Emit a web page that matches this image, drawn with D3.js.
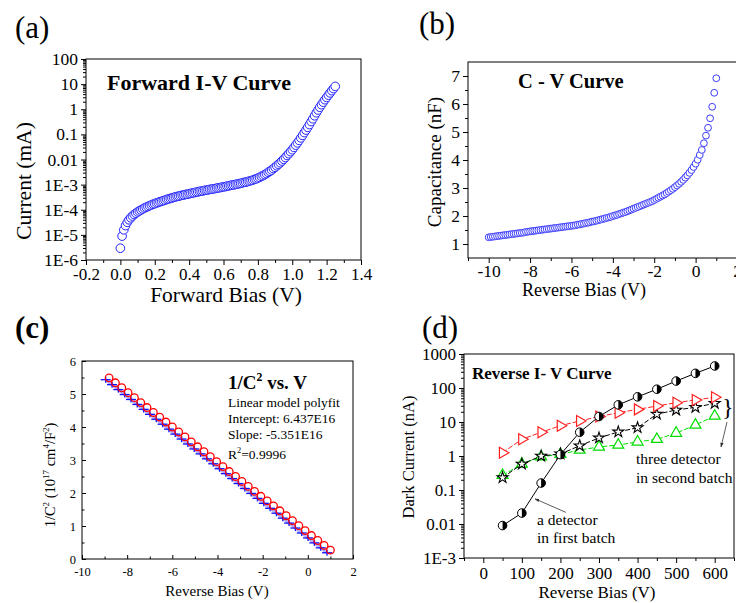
<!DOCTYPE html>
<html lang="en">
<head>
<meta charset="utf-8">
<title>Detector I-V and C-V curves</title>
<script src="https://cdnjs.cloudflare.com/ajax/libs/d3/7.8.5/d3.min.js"></script>
<style>
  body { margin: 0; background: #fff; }
</style>
</head>
<body>
<script>
// ---------- data ----------

// (a) forward I-V: bias (V) and log10 of current (mA)
var fwdBias = [
  0.00,0.01,0.02,0.03,0.04,0.05,0.06,0.07,0.08,0.09,
  0.10,0.11,0.12,0.13,0.14,0.15,0.16,0.17,0.18,0.19,
  0.20,0.21,0.22,0.23,0.24,0.25,0.26,0.27,0.28,0.29,
  0.30,0.31,0.32,0.33,0.34,0.35,0.36,0.37,0.38,0.39,
  0.40,0.41,0.42,0.43,0.44,0.45,0.46,0.47,0.48,0.49,
  0.50,0.51,0.52,0.53,0.54,0.55,0.56,0.57,0.58,0.59,
  0.60,0.61,0.62,0.63,0.64,0.65,0.66,0.67,0.68,0.69,
  0.70,0.71,0.72,0.73,0.74,0.75,0.76,0.77,0.78,0.79,
  0.80,0.81,0.82,0.83,0.84,0.85,0.86,0.87,0.88,0.89,
  0.90,0.91,0.92,0.93,0.94,0.95,0.96,0.97,0.98,0.99,
  1.00,1.01,1.02,1.03,1.04,1.05,1.06,1.07,1.08,1.09,
  1.10,1.11,1.12,1.13,1.14,1.15,1.16,1.17,1.18,1.19,
  1.20,1.21,1.22,1.23,1.24,1.25
];
var fwdLogCurrent = [
  -5.53,-5.05,-4.80,-4.63,-4.50,-4.40,-4.32,-4.25,-4.19,-4.14,
  -4.09,-4.05,-4.01,-3.97,-3.93,-3.90,-3.87,-3.84,-3.81,-3.78,
  -3.76,-3.73,-3.71,-3.68,-3.66,-3.64,-3.62,-3.59,-3.57,-3.55,
  -3.53,-3.51,-3.49,-3.47,-3.46,-3.44,-3.42,-3.41,-3.39,-3.38,
  -3.36,-3.35,-3.33,-3.32,-3.30,-3.29,-3.27,-3.26,-3.25,-3.23,
  -3.22,-3.21,-3.19,-3.18,-3.17,-3.16,-3.14,-3.13,-3.12,-3.10,
  -3.09,-3.08,-3.06,-3.05,-3.03,-3.02,-3.01,-2.99,-2.98,-2.96,
  -2.95,-2.93,-2.91,-2.90,-2.88,-2.86,-2.84,-2.82,-2.79,-2.77,
  -2.74,-2.71,-2.67,-2.64,-2.60,-2.56,-2.51,-2.47,-2.42,-2.36,
  -2.31,-2.25,-2.19,-2.13,-2.06,-1.99,-1.92,-1.84,-1.77,-1.69,
  -1.61,-1.52,-1.43,-1.34,-1.24,-1.14,-1.04,-0.93,-0.83,-0.72,
  -0.61,-0.49,-0.38,-0.26,-0.14,-0.03,0.08,0.18,0.28,0.38,
  0.47,0.56,0.65,0.74,0.82,0.91
];

// (b) C-V: reverse bias (V) and capacitance (nF)
var cvBias = [
  -10.0,-9.9,-9.8,-9.7,-9.6,-9.5,-9.4,-9.3,-9.2,-9.1,
  -9.0,-8.9,-8.8,-8.7,-8.6,-8.5,-8.4,-8.3,-8.2,-8.1,
  -8.0,-7.9,-7.8,-7.7,-7.6,-7.5,-7.4,-7.3,-7.2,-7.1,
  -7.0,-6.9,-6.8,-6.7,-6.6,-6.5,-6.4,-6.3,-6.2,-6.1,
  -6.0,-5.9,-5.8,-5.7,-5.6,-5.5,-5.4,-5.3,-5.2,-5.1,
  -5.0,-4.9,-4.8,-4.7,-4.6,-4.5,-4.4,-4.3,-4.2,-4.1,
  -4.0,-3.9,-3.8,-3.7,-3.6,-3.5,-3.4,-3.3,-3.2,-3.1,
  -3.0,-2.9,-2.8,-2.7,-2.6,-2.5,-2.4,-2.3,-2.2,-2.1,
  -2.0,-1.9,-1.8,-1.7,-1.6,-1.5,-1.4,-1.3,-1.2,-1.1,
  -1.0,-0.9,-0.8,-0.7,-0.6,-0.5,-0.4,-0.3,-0.2,-0.1,
  0.0,0.1,0.2,0.3,0.4,0.5,0.6,0.7,0.8,0.9,
  1.0
];
var cvCap = [
  1.24,1.25,1.26,1.27,1.28,1.29,1.30,1.31,1.32,1.33,
  1.34,1.35,1.36,1.37,1.38,1.39,1.40,1.41,1.43,1.44,
  1.45,1.46,1.47,1.48,1.49,1.50,1.51,1.52,1.53,1.54,
  1.55,1.56,1.57,1.58,1.59,1.60,1.61,1.62,1.63,1.64,
  1.65,1.66,1.67,1.69,1.70,1.72,1.73,1.75,1.76,1.78,
  1.80,1.81,1.83,1.85,1.87,1.89,1.91,1.93,1.95,1.97,
  2.00,2.02,2.04,2.07,2.09,2.12,2.14,2.17,2.20,2.23,
  2.26,2.29,2.32,2.35,2.38,2.41,2.44,2.47,2.50,2.53,
  2.57,2.61,2.65,2.69,2.73,2.77,2.82,2.87,2.92,2.97,
  3.03,3.09,3.15,3.22,3.29,3.37,3.45,3.54,3.64,3.75,
  3.87,4.01,4.18,4.36,4.60,4.87,5.15,5.49,5.90,6.40,
  6.92
];

// (c) 1/C^2 vs V (units of 1e17 cm^4/F^2)
var invBias = [
  -8.80,-8.52,-8.24,-7.96,-7.68,-7.40,-7.12,-6.84,-6.56,-6.28,
  -6.00,-5.72,-5.44,-5.16,-4.88,-4.60,-4.32,-4.04,-3.76,-3.48,
  -3.20,-2.92,-2.64,-2.36,-2.08,-1.80,-1.52,-1.24,-0.96,-0.68,
  -0.40,-0.12,0.16,0.44,0.72,1.00
];
var invC2 = [
  5.49,5.34,5.19,5.04,4.89,4.74,4.59,4.44,4.30,4.15,
  4.00,3.85,3.70,3.55,3.40,3.25,3.10,2.95,2.80,2.65,
  2.50,2.35,2.20,2.05,1.90,1.76,1.61,1.46,1.31,1.16,
  1.01,0.86,0.71,0.56,0.41,0.27
];
var fitBias = [
  -8.95,-8.67,-8.39,-8.11,-7.83,-7.55,-7.27,-6.99,-6.71,-6.43,
  -6.15,-5.87,-5.59,-5.31,-5.03,-4.75,-4.47,-4.19,-3.91,-3.63,
  -3.35,-3.07,-2.79,-2.51,-2.23,-1.95,-1.67,-1.39,-1.11,-0.83,
  -0.55,-0.27,0.01,0.29,0.57,0.85
];
var fitIntercept = 0.6437;   // 6.437E16
var fitSlope = -0.5351;      // -5.351E16

// (d) reverse I-V: bias (V) and dark current (nA)
var revBias = [50,100,150,200,250,300,350,400,450,500,550,600];
var firstBatch = [0.009,0.021,0.16,1.1,5.0,14.5,32,55,92,160,270,445];
var secondRed = [1.25,3.1,5.0,7.8,10.7,14.5,18.7,23.5,29.5,37,44.5,53.5];
var secondStar = [0.23,0.58,1.0,1.15,2.0,3.4,5.1,6.8,17,22.5,27,35.5];
var secondGreen = [0.27,0.58,0.95,1.12,1.5,1.85,2.1,2.6,3.1,4.7,8.2,15];

// tick labels
var ivYTicks = [1e-6,1e-5,1e-4,1e-3,0.01,0.1,1,10,100];
var ivYLabels = ["1E-6","1E-5","1E-4","1E-3","0.01","0.1","1","10","100"];
var ivXTicks = [-0.2,0,0.2,0.4,0.6,0.8,1.0,1.2,1.4];
var revYTicks = [1e-3,0.01,0.1,1,10,100,1000];
var revYLabels = ["1E-3","0.01","0.1","1","10","100","1000"];
var revXTicks = [0,100,200,300,400,500,600];

// ---------- drawing ----------
var SERIF = "Liberation Serif";
var W = 736, H = 603;

var svg = d3.select("body").append("svg")
    .attr("width", W)
    .attr("height", H);
svg.append("rect").attr("width", W).attr("height", H).attr("fill", "#fff");

var defs = svg.append("defs");
defs.append("marker")
    .attr("id", "arr")
    .attr("viewBox", "0 0 10 10")
    .attr("refX", 9).attr("refY", 5)
    .attr("markerWidth", 6).attr("markerHeight", 6)
    .attr("orient", "auto")
  .append("path")
    .attr("d", "M0,1.5L10,5L0,8.5Z")
    .attr("fill", "#333");

function text(x, y, s, size, opt) {
  opt = opt || {};
  var t = svg.append("text")
      .attr("x", x).attr("y", y)
      .attr("font-family", SERIF)
      .attr("font-size", size)
      .attr("font-weight", opt.bold ? "bold" : "normal")
      .attr("text-anchor", opt.anchor || "start")
      .attr("fill", "#000");
  if (opt.rotate) {
    t.attr("x", 0).attr("y", 0)
     .attr("transform", "translate(" + x + "," + y + ") rotate(-90)");
  }
  if (typeof s === "string") {
    t.text(s);
  } else {
    // parts: [string, isSuperscript]
    var sup = size * 0.62, up = size * 0.42;
    s.forEach(function(p) {
      var span = t.append("tspan").text(p[0]);
      if (p[1]) {
        span.attr("font-size", sup).attr("dy", -up);
      } else if (t.property("lastSup")) {
        span.attr("dy", up);
      }
      t.property("lastSup", !!p[1]);
    });
  }
  return t;
}

function styleAxis(g, size) {
  g.select(".domain").remove();
  g.selectAll(".tick line").attr("stroke", "#000").attr("stroke-width", 1);
  g.selectAll(".tick text")
      .attr("font-family", SERIF)
      .attr("font-size", size)
      .attr("fill", "#000");
}

function axis(gen, pos, size, horiz) {
  var g = svg.append("g")
      .attr("transform", horiz ? "translate(0," + pos + ")" : "translate(" + pos + ",0)")
      .call(gen);
  styleAxis(g, size);
  return g;
}

function frame(x, y) {
  svg.append("rect")
      .attr("x", x.range()[0]).attr("y", y.range()[1])
      .attr("width", x.range()[1] - x.range()[0])
      .attr("height", y.range()[0] - y.range()[1])
      .attr("fill", "none")
      .attr("stroke", "#000")
      .attr("stroke-width", 1);
}

function logMinor(lo, hi) {
  var out = [];
  for (var e = lo; e < hi; e++) {
    for (var k = 2; k <= 9; k++) out.push(k * Math.pow(10, e));
  }
  return out;
}

// ===== (a) forward I-V =====
var ax = d3.scaleLinear().domain([-0.2, 1.4]).range([86, 361]);
var ay = d3.scaleLog().domain([1e-6, 100]).range([260, 59]);

axis(d3.axisBottom(ax).tickValues(ivXTicks).tickSize(5).tickPadding(3)
       .tickFormat(function(d) { return d.toFixed(1); }), 260, 17, true);
axis(d3.axisBottom(ax).tickValues([-0.1,0.1,0.3,0.5,0.7,0.9,1.1,1.3]).tickSize(3)
       .tickFormat(""), 260, 17, true);
axis(d3.axisLeft(ay).tickValues(ivYTicks).tickSize(5).tickPadding(3)
       .tickFormat(function(d, i) { return ivYLabels[i]; }), 86, 17.5, false);
axis(d3.axisLeft(ay).tickValues(logMinor(-6, 2)).tickSize(3).tickFormat(""), 86, 17, false);

svg.append("g").selectAll("circle")
    .data(fwdBias)
    .enter()
    .append("circle")
    .attr("cx", function(d) { return ax(d); })
    .attr("cy", function(d, i) { return ay(Math.pow(10, fwdLogCurrent[i])); })
    .attr("r", 4.3)
    .attr("fill", "#fff")
    .attr("stroke", "#2222ff")
    .attr("stroke-width", 1);
frame(ax, ay);

text(15, 38, "(a)", 31);
text(107, 90, "Forward I-V Curve", 22, {bold: true});
text(31, 181, "Current (mA)", 21.5, {rotate: true, anchor: "middle"});
text(226, 302, "Forward Bias (V)", 21.5, {anchor: "middle"});

// ===== (b) C-V =====
var bx = d3.scaleLinear().domain([-11, 2]).range([468, 737]);
var by = d3.scaleLinear().domain([0.5, 7.5]).range([258, 62]);

axis(d3.axisBottom(bx).tickValues([-10,-8,-6,-4,-2,0,2]).tickSize(5).tickPadding(2)
       .tickFormat(String), 258, 17.5, true);
axis(d3.axisBottom(bx).tickValues([-11,-9,-7,-5,-3,-1,1]).tickSize(3).tickFormat(""), 258, 17, true);
axis(d3.axisLeft(by).tickValues([1,2,3,4,5,6,7]).tickSize(5).tickPadding(3)
       .tickFormat(String), 468, 17.5, false);
axis(d3.axisLeft(by).tickValues([1.5,2.5,3.5,4.5,5.5,6.5]).tickSize(3).tickFormat(""), 468, 17, false);

svg.append("g").selectAll("circle")
    .data(cvBias)
    .enter()
    .append("circle")
    .attr("cx", function(d) { return bx(d); })
    .attr("cy", function(d, i) { return by(cvCap[i]); })
    .attr("r", 3.4)
    .attr("fill", "#fff")
    .attr("stroke", "#3b3bff")
    .attr("stroke-width", 1);
frame(bx, by);

text(419, 34, "(b)", 31);
text(518, 88, "C - V Curve", 20.5, {bold: true});
text(441, 162, "Capacitance (nF)", 19, {rotate: true, anchor: "middle"});
text(584, 296, "Reverse Bias (V)", 18, {anchor: "middle"});

// ===== (c) 1/C^2 vs V =====
var cx = d3.scaleLinear().domain([-10, 2]).range([82, 353]);
var cy = d3.scaleLinear().domain([0, 6]).range([559, 361]);

axis(d3.axisBottom(cx).tickValues([-10,-8,-6,-4,-2,0,2]).tickSize(-4).tickPadding(8)
       .tickFormat(String), 559, 12.5, true);
axis(d3.axisBottom(cx).tickValues([-9,-7,-5,-3,-1,1]).tickSize(-2.5).tickFormat(""), 559, 12, true);
axis(d3.axisLeft(cy).tickValues([0,1,2,3,4,5,6]).tickSize(-4).tickPadding(6)
       .tickFormat(String), 82, 12.5, false);
axis(d3.axisLeft(cy).tickValues([0.5,1.5,2.5,3.5,4.5,5.5]).tickSize(-2.5).tickFormat(""), 82, 12, false);

svg.append("line")
    .attr("x1", cx(fitBias[0])).attr("y1", cy(fitIntercept + fitSlope * fitBias[0]))
    .attr("x2", cx(fitBias[fitBias.length - 1]))
    .attr("y2", cy(fitIntercept + fitSlope * fitBias[fitBias.length - 1]))
    .attr("stroke", "#8f8fff")
    .attr("stroke-width", 3)
    .attr("opacity", 0.7);

var plus = svg.append("g").selectAll("g")
    .data(fitBias)
    .enter()
    .append("g")
    .attr("transform", function(d) {
      return "translate(" + cx(d) + "," + cy(fitIntercept + fitSlope * d) + ")";
    })
    .attr("stroke", "#1010ff")
    .attr("stroke-width", 1.3);
plus.append("line").attr("x1", -5).attr("x2", 5);
plus.append("line").attr("y1", -3).attr("y2", 3);

svg.append("g").selectAll("circle")
    .data(invBias)
    .enter()
    .append("circle")
    .attr("cx", function(d) { return cx(d); })
    .attr("cy", function(d, i) { return cy(invC2[i]); })
    .attr("r", 3.8)
    .attr("fill", "none")
    .attr("stroke", "#ff0000")
    .attr("stroke-width", 1.3);
frame(cx, cy);

text(15, 338, "(c)", 31, {bold: true});
text(228, 389, [["1/C"], ["2", true], [" vs. V"]], 19, {bold: true});
text(228, 407, "Linear model polyfit", 13.5);
text(228, 423, "Intercept: 6.437E16", 13.5);
text(228, 439, "Slope: -5.351E16", 13.5);
text(228, 459, [["R"], ["2", true], ["=0.9996"]], 13.5);
text(55, 475, [["1/C"], ["2", true], [" (10"], ["17", true], [" cm"], ["4", true], ["/F"], ["2", true], [")"]], 14.5, {rotate: true, anchor: "middle"});
text(217, 596, "Reverse Bias (V)", 15, {anchor: "middle"});

// ===== (d) reverse I-V =====
var dx = d3.scaleLinear().domain([-50, 650]).range([464, 734]);
var dy = d3.scaleLog().domain([1e-3, 1000]).range([558, 354]);

axis(d3.axisBottom(dx).tickValues(revXTicks).tickSize(5).tickPadding(4)
       .tickFormat(String), 558, 17, true);
axis(d3.axisBottom(dx).tickValues([-50,50,150,250,350,450,550,650]).tickSize(3).tickFormat(""), 558, 17, true);
axis(d3.axisLeft(dy).tickValues(revYTicks).tickSize(5).tickPadding(3)
       .tickFormat(function(d, i) { return revYLabels[i]; }), 464, 17, false);
axis(d3.axisLeft(dy).tickValues(logMinor(-3, 3)).tickSize(3).tickFormat(""), 464, 17, false);

var series = [
  {vals: secondGreen, color: "#00dd00", dash: "5,2", shape: "triUp"},
  {vals: secondStar, color: "#000", dash: "5,2", shape: "star"},
  {vals: secondRed, color: "#ff2020", dash: "5,2", shape: "triRight"},
  {vals: firstBatch, color: "#000", dash: null, shape: "half"}
];

var lineGen = d3.line()
    .x(function(d) { return dx(d[0]); })
    .y(function(d) { return dy(d[1]); });

series.forEach(function(s) {
  var pts = revBias.map(function(v, i) { return [v, s.vals[i]]; });
  svg.append("path")
      .attr("d", lineGen(pts))
      .attr("fill", "none")
      .attr("stroke", s.color)
      .attr("stroke-width", 1)
      .attr("stroke-dasharray", s.dash);

  var m = svg.append("g").selectAll("g")
      .data(pts)
      .enter()
      .append("g")
      .attr("transform", function(d) { return "translate(" + dx(d[0]) + "," + dy(d[1]) + ")"; });

  if (s.shape === "half") {
    m.append("circle").attr("r", 4.3).attr("fill", "#fff").attr("stroke", "#000").attr("stroke-width", 1);
    m.append("path").attr("d", "M0,-4.3A4.3,4.3 0 0 1 0,4.3Z").attr("fill", "#000");
  } else if (s.shape === "star") {
    m.append("path").attr("d", d3.symbol().type(d3.symbolStar).size(38)())
        .attr("fill", "#fff").attr("stroke", "#000").attr("stroke-width", 1.1);
  } else {
    m.append("path").attr("d", d3.symbol().type(d3.symbolTriangle).size(52)())
        .attr("transform", s.shape === "triRight" ? "rotate(90)" : null)
        .attr("fill", "#fff").attr("stroke", s.color).attr("stroke-width", 1.2);
  }
});
frame(dx, dy);

text(422, 338, "(d)", 31);
text(472, 379, "Reverse I- V Curve", 17, {bold: true});
text(414, 457, "Dark Current (nA)", 16.5, {rotate: true, anchor: "middle"});
text(597, 598, "Reverse Bias (V)", 17, {anchor: "middle"});

// annotations
text(537, 525, "a detector", 15.5);
text(537, 543, "in first batch", 15.5);
text(636, 464, "three detector", 15.5);
text(636, 483, "in second batch", 15.5);
text(722, 415, "}", 24);

svg.append("line")
    .attr("x1", dx(214)).attr("y1", dy(0.022))
    .attr("x2", dx(134)).attr("y2", dy(0.055))
    .attr("stroke", "#333").attr("stroke-width", 0.8)
    .attr("marker-end", "url(#arr)");
svg.append("line")
    .attr("x1", 727).attr("y1", 422)
    .attr("x2", 721).attr("y2", 447)
    .attr("stroke", "#333").attr("stroke-width", 0.8)
    .attr("marker-end", "url(#arr)");
</script>
</body>
</html>
